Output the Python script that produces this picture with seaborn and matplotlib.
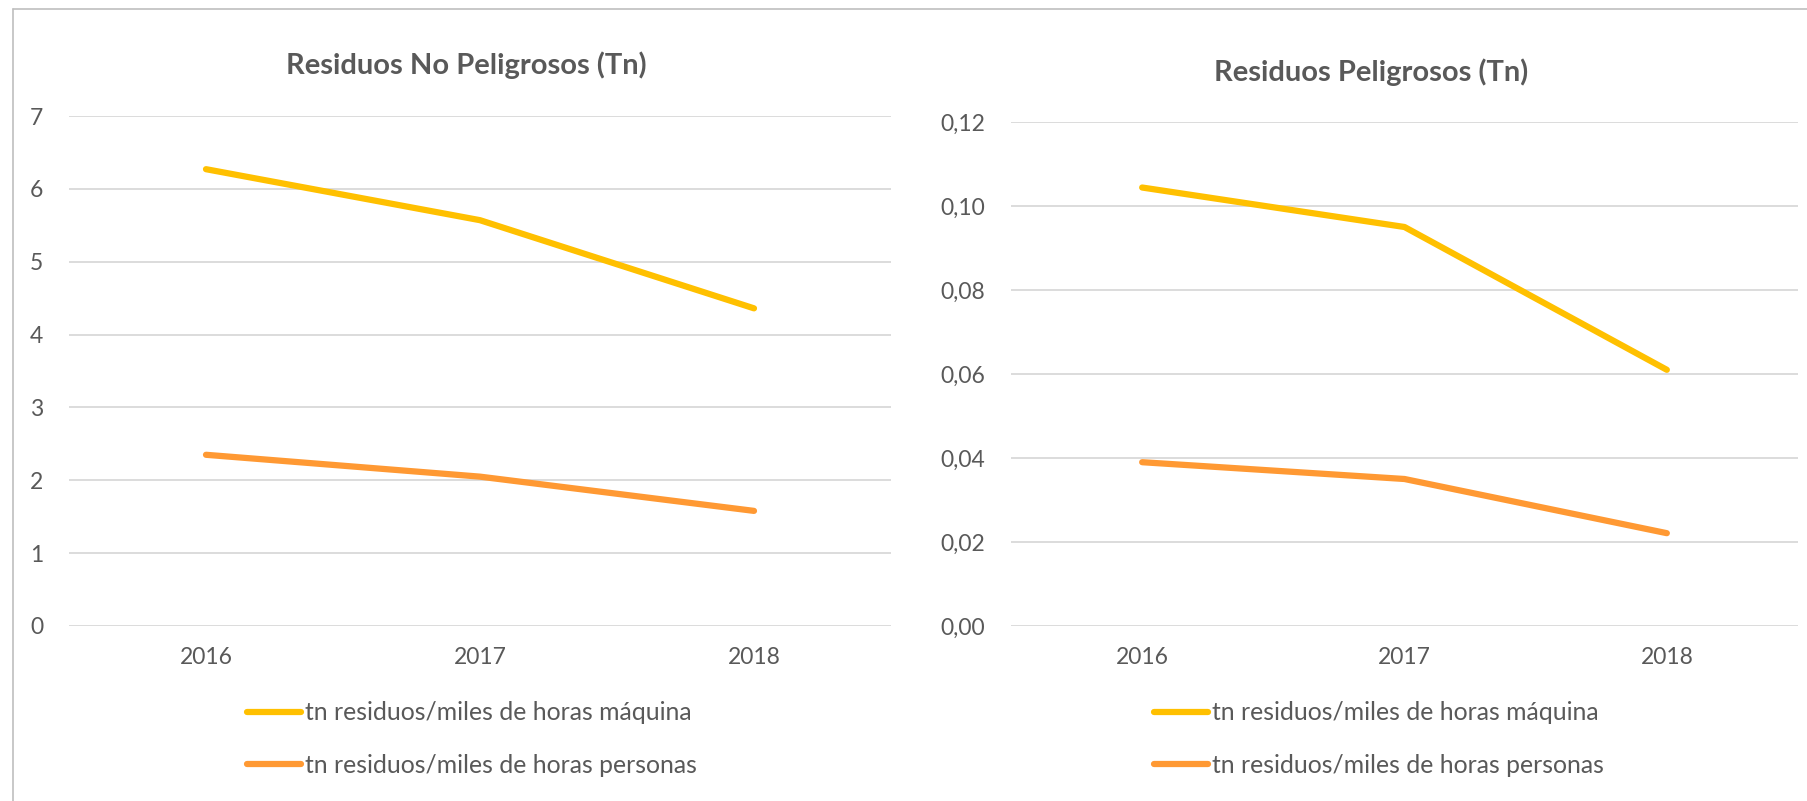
import matplotlib
matplotlib.use("Agg")
import matplotlib.pyplot as plt
import pandas as pd
import seaborn as sns
from matplotlib.lines import Line2D
from matplotlib.ticker import FuncFormatter

YEARS = ["2016", "2017", "2018"]
SERIES = ["tn residuos/miles de horas máquina", "tn residuos/miles de horas personas"]

NO_PEL_MAQUINA = [6.27, 5.57, 4.36]
NO_PEL_PERSONAS = [2.35, 2.05, 1.58]
PEL_MAQUINA = [0.1044, 0.0950, 0.0610]
PEL_PERSONAS = [0.0390, 0.0350, 0.0221]

TITLES = ["Residuos No Peligrosos (Tn)", "Residuos Peligrosos (Tn)"]
COLORS = ["#FFC000", "#FF9933"]
TEXT = "#595959"
GRID = "#D9D9D9"


def long_df(maquina, personas):
    rows = []
    for name, vals in zip(SERIES, [maquina, personas]):
        for y, v in zip(YEARS, vals):
            rows.append({"year": y, "serie": name, "value": v})
    return pd.DataFrame(rows)


def style_axis(ax, ylim, step, fmt):
    ax.set_xlim(-0.5, 2.5)
    ax.set_ylim(*ylim)
    ax.set_yticks([ylim[0] + i * step for i in range(int(round((ylim[1] - ylim[0]) / step)) + 1)])
    ax.yaxis.set_major_formatter(FuncFormatter(fmt))
    ax.grid(axis="y", color=GRID, linewidth=1.3)
    ax.grid(axis="x", visible=False)
    for s in ax.spines.values():
        s.set_visible(False)
    ax.tick_params(axis="y", length=0, pad=18.5, labelsize=16.5, labelcolor=TEXT)
    ax.tick_params(axis="x", length=0, pad=15, labelsize=16.5, labelcolor=TEXT)
    ax.set_xlabel("")
    ax.set_ylabel("")
    ax.set_axisbelow(True)


def main():
    sns.set_theme(style="white")
    plt.rcParams["font.family"] = ["Lato", "DejaVu Sans"]

    W, H = 1807, 801
    fig = plt.figure(figsize=(W / 100, H / 100), dpi=100)

    # axes rectangles measured in pixels of the reference
    ax1 = fig.add_axes([69 / W, 1 - 626 / H, (891 - 69) / W, (626 - 116) / H])
    ax2 = fig.add_axes([1011 / W, 1 - 626 / H, (1798 - 1011) / W, (626 - 122) / H])

    palette = dict(zip(SERIES, COLORS))
    d1 = long_df(NO_PEL_MAQUINA, NO_PEL_PERSONAS)
    d2 = long_df(PEL_MAQUINA, PEL_PERSONAS)

    for ax, d in [(ax1, d1), (ax2, d2)]:
        sns.lineplot(data=d, x="year", y="value", hue="serie", palette=palette,
                     linewidth=4.5, ax=ax, legend=False, sort=False)
        for ln in ax.get_lines():
            ln.set_solid_capstyle("round")
            ln.set_solid_joinstyle("round")

    style_axis(ax1, (0, 7), 1, lambda v, p: f"{v:.0f}")
    style_axis(ax2, (0, 0.12), 0.02, lambda v, p: f"{v:.2f}".replace(".", ","))

    # titles centred on each chart area
    fig.text(466 / W, 1 - 65 / H, TITLES[0], ha="center", va="center",
             fontsize=21, fontweight="bold", color=TEXT)
    fig.text(1371 / W, 1 - 72 / H, TITLES[1], ha="center", va="center",
             fontsize=21, fontweight="bold", color=TEXT)

    handles = [Line2D([0], [0], color=c, linewidth=4.5, solid_capstyle="round") for c in COLORS]
    for cx in [472 / W, 1379 / W]:
        fig.legend(handles, SERIES, loc="center", bbox_to_anchor=(cx, 1 - 739 / H),
                   frameon=False, ncol=1, fontsize=17.8, labelcolor=TEXT,
                   handlelength=2.2, handletextpad=0.18, labelspacing=1.2)

    # chart border (top and left edges visible)
    fig.add_artist(Line2D([13 / W, 1.0], [1 - 9 / H, 1 - 9 / H], color="#BFBFBF", linewidth=1.2))
    fig.add_artist(Line2D([13 / W, 13 / W], [0, 1 - 9 / H], color="#BFBFBF", linewidth=1.2))

    fig.savefig("out.png", dpi=100, facecolor="white")
    plt.close(fig)


if __name__ == "__main__":
    main()
